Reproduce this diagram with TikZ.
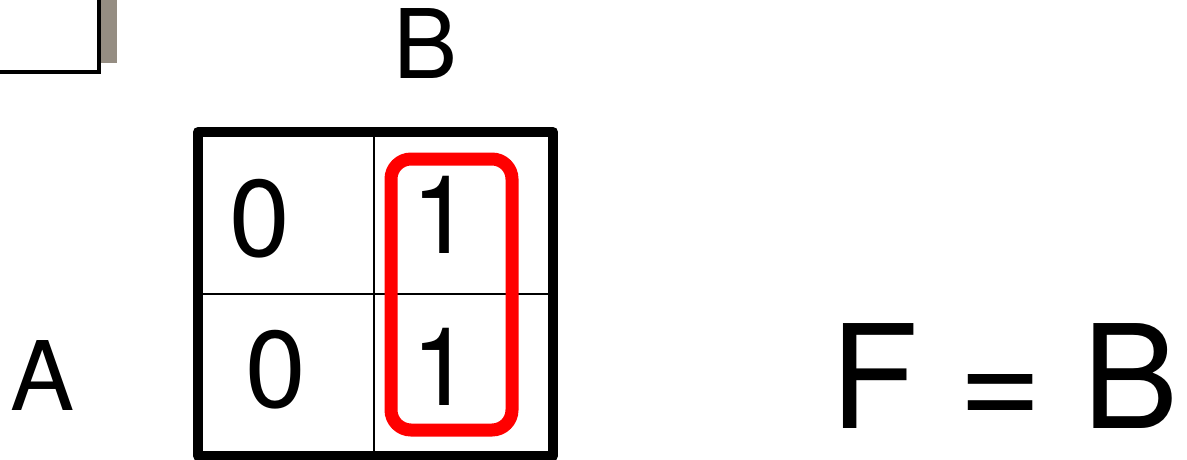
\documentclass[tikz,border=0pt]{standalone}
\usepackage{fontspec}
\setmainfont{TeX Gyre Heros}
\definecolor{shadowgray}{HTML}{958D82}
\begin{document}
\begin{tikzpicture}[x=1pt,y=-1pt,
  digit/.style={font=\fontsize{109}{109}\selectfont, inner sep=0pt, anchor=base},
  varlabel/.style={font=\fontsize{96}{96}\selectfont, inner sep=0pt, anchor=base},
  grid/.style={line width=2pt},
  frame/.style={line width=10pt, line join=round},
  group/.style={draw=red, line width=13pt, rounded corners=20pt}]
\useasboundingbox (0,0) rectangle (1187,459);
% top-left fragment with shadow
\fill[shadowgray] (100,-5) rectangle (116.7,63);
\draw[line width=3.5pt, fill=white] (-10,-10) rectangle (99,72);
% K-map
\draw[grid] (374.3,132) -- (374.3,456);
\draw[grid] (198,294.3) -- (553,294.3);
\draw[frame] (198,132) rectangle (553,456);
\node[digit] (c00) at (260,256) {0};
\node[digit] (c01) at (441.5,253) {1};
\node[digit] (c10) at (276,407) {0};
\node[digit] (c11) at (441.5,405) {1};
\draw[group] (391,159) rectangle (512,430);
% labels
\node[varlabel] (B) at (426,78) {B};
\node[varlabel] (A) at (43,410.5) {A};
\node[font=\fontsize{144}{144}\selectfont, inner sep=0pt, anchor=base west] (F) at (830,428.3) {F = B};
\end{tikzpicture}
\end{document}
